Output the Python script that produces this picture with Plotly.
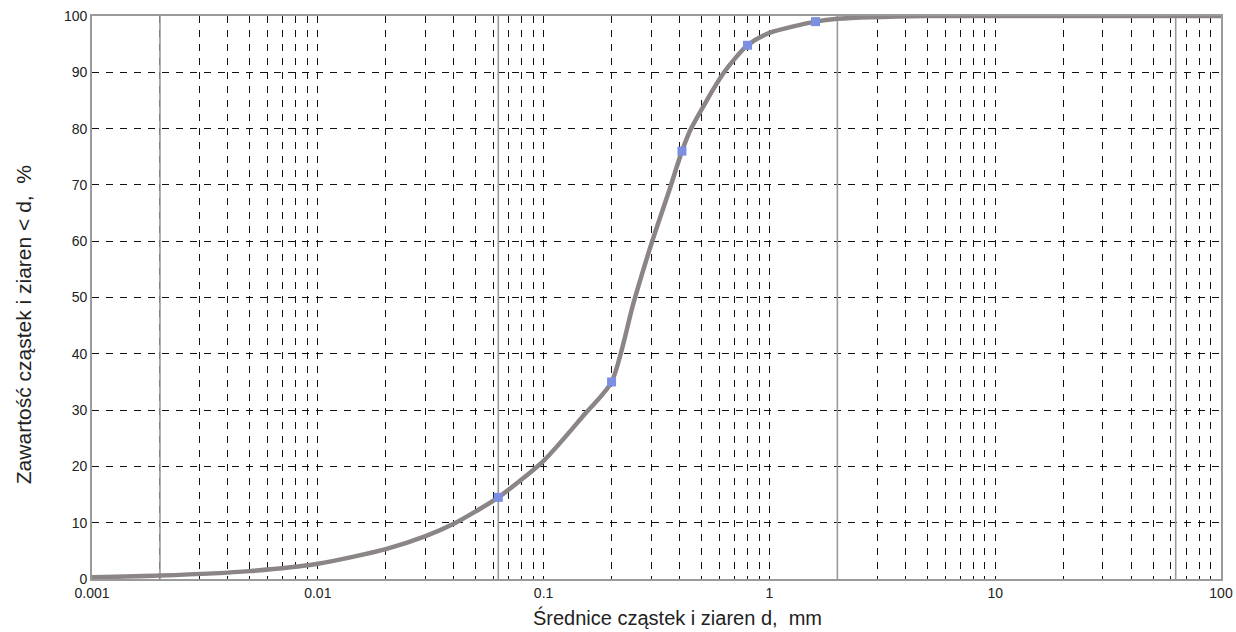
import plotly.graph_objects as go

# ---- data ----
curve_d = [0.001, 0.002, 0.005, 0.01, 0.02, 0.03, 0.04, 0.05, 0.063, 0.1, 0.15,
           0.2, 0.25, 0.3, 0.36, 0.41, 0.45, 0.63, 0.8, 1.0, 1.6, 2.0, 5.0, 10.0, 100.0]
curve_p = [0.3, 0.6, 1.4, 2.7, 5.3, 7.6, 9.8, 12.0, 14.5, 21.0, 29.0,
           35.0, 49.0, 59.5, 69.0, 76.0, 80.0, 90.0, 94.8, 97.0, 99.0, 99.5, 100.0, 100.0, 100.0]

sample_d = [0.063, 0.2, 0.41, 0.8, 1.6]
sample_p = [14.5, 35.0, 76.0, 94.8, 99.0]

boundary_d = [0.002, 0.063, 2.0, 63.0]   # fraction boundaries (solid lines)

x_tickvals = [0.001, 0.01, 0.1, 1, 10, 100]
x_ticktext = ["0.001", "0.01", "0.1", "1", "10", "100"]
y_tickvals = [0, 10, 20, 30, 40, 50, 60, 70, 80, 90, 100]

x_title = "Średnice cząstek i ziaren d,  mm"
y_title = "Zawartość cząstek i ziaren < d,  %"

FONT = "Liberation Sans, Arial, sans-serif"
TXT = "#222222"

fig = go.Figure()

# solid boundary lines
for b in boundary_d:
    fig.add_trace(go.Scatter(x=[b, b], y=[0, 100], mode="lines",
                             line=dict(color="#9a9a9a", width=1.6),
                             hoverinfo="skip", showlegend=False))

# grading curve
fig.add_trace(go.Scatter(x=curve_d, y=curve_p, mode="lines",
                         line=dict(color="#8b8585", width=4.5, shape="spline", smoothing=0.7),
                         showlegend=False))

# sample points
fig.add_trace(go.Scatter(x=sample_d, y=sample_p, mode="markers",
                         marker=dict(symbol="square", size=9, color="#7d8fe2"),
                         showlegend=False))

fig.update_xaxes(type="log", range=[-3, 2], automargin=False, ticklabeloverflow="allow",
                 tickmode="array", tickvals=x_tickvals, ticktext=x_ticktext,
                 showgrid=True, gridcolor="#111111", gridwidth=1, griddash="7px,7px",
                 minor=dict(dtick="D1", showgrid=True, gridcolor="#111111",
                            gridwidth=1, griddash="7px,7px", ticks=""),
                 showline=True, linecolor="#9a9a9a", linewidth=1.6, mirror=True,
                 ticks="", zeroline=False,
                 tickfont=dict(family=FONT, size=14, color=TXT))
fig.update_yaxes(range=[0, 100], tickmode="array", tickvals=y_tickvals, automargin=False,
                 ticklabeloverflow="allow",
                 showgrid=True, gridcolor="#111111", gridwidth=1, griddash="7px,7px",
                 showline=True, linecolor="#9a9a9a", linewidth=1.6, mirror=True,
                 ticks="", zeroline=False,
                 tickfont=dict(family=FONT, size=14, color=TXT))

fig.add_annotation(text=x_title, xref="paper", yref="paper", x=0.519, y=-0.069,
                   showarrow=False, xanchor="center", yanchor="middle",
                   font=dict(family=FONT, size=20, color=TXT))
fig.add_annotation(text=y_title, xref="paper", yref="paper", x=-0.061, y=0.451,
                   showarrow=False, xanchor="center", yanchor="middle", textangle=-90,
                   font=dict(family=FONT, size=21, color=TXT))

fig.update_layout(width=1236, height=632,
                  margin=dict(l=92, r=15, t=16, b=53, autoexpand=False),
                  paper_bgcolor="white", plot_bgcolor="white",
                  showlegend=False)

fig.write_html("out.html")
